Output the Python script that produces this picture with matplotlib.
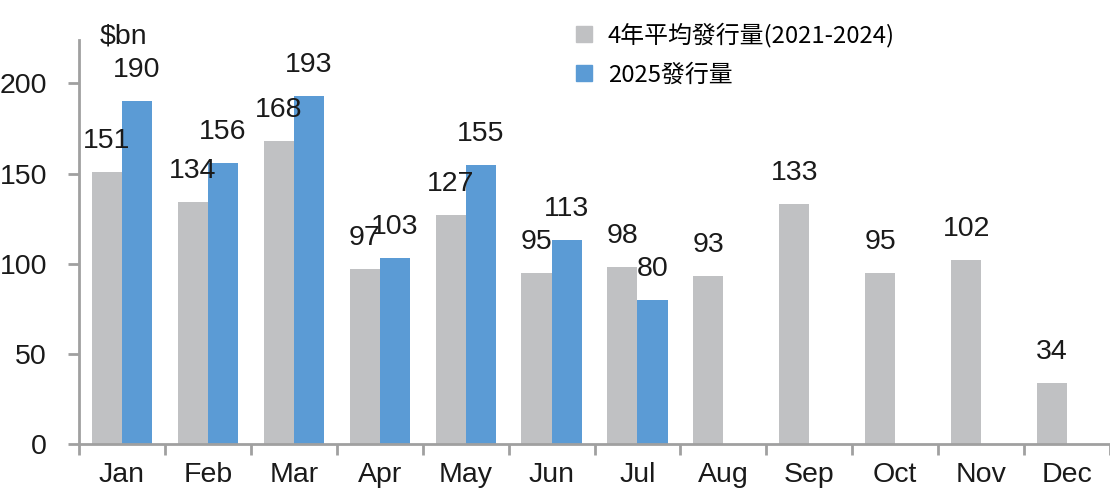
import numpy as np
import matplotlib
matplotlib.use('Agg')
import matplotlib.pyplot as plt
from matplotlib.lines import Line2D

months = ['Jan', 'Feb', 'Mar', 'Apr', 'May', 'Jun',
          'Jul', 'Aug', 'Sep', 'Oct', 'Nov', 'Dec']
avg_issuance = [151, 134, 168, 97, 127, 95, 98, 93, 133, 95, 102, 34]
issuance_2025 = [190, 156, 193, 103, 155, 113, 80]
label_avg = '4年平均發行量(2021-2024)'
label_2025 = '2025發行量'

gray = '#c0c1c3'
blue = '#5b9bd5'
axis_col = '#a0a0a0'
txt_col = '#1a1a1a'

plt.rcParams['font.family'] = ['Liberation Sans', 'DejaVu Sans']

fig = plt.figure(figsize=(11.1, 4.95), dpi=100)
ax = fig.add_axes([79 / 1110, 51 / 495, 1031 / 1110, 393 / 495])

x = np.arange(len(months))
w = 0.35
bars_avg = ax.bar(x - w / 2, avg_issuance, w, color=gray)
x25 = np.arange(len(issuance_2025))
bars_25 = ax.bar(x25 + w / 2, issuance_2025, w, color=blue)

# value labels sit ~24px above each bar
for bars, vals in [(bars_avg, avg_issuance), (bars_25, issuance_2025)]:
    for b, v in zip(bars, vals):
        ax.annotate(str(v), (b.get_x() + b.get_width() / 2, v),
                    xytext=(0, 24), textcoords='offset pixels',
                    ha='center', va='baseline', fontsize=20.5, color=txt_col)

ax.set_xlim(-0.5, 11.5)
ax.set_ylim(0, 218)
ax.set_yticks([0, 50, 100, 150, 200])
ax.set_xticks(x)
ax.set_xticklabels(months)
ax.set_xticks(np.arange(-0.5, 12, 1), minor=True)
ax.tick_params(axis='x', which='major', length=0, pad=13, labelsize=20.5,
               labelcolor=txt_col)
ax.tick_params(axis='x', which='minor', length=8, width=2, color=axis_col)
ax.tick_params(axis='y', length=8, width=2, color=axis_col, pad=15, labelsize=20.5,
               labelcolor=txt_col)

for side in ['top', 'right']:
    ax.spines[side].set_visible(False)
for side in ['left', 'bottom']:
    ax.spines[side].set_color(axis_col)
    ax.spines[side].set_linewidth(2)
ax.spines['left'].set_bounds(0, 224)

fig.text(100 / 1110, 1 - 43 / 495, '$bn', fontsize=20.5, va='baseline', color=txt_col)

handles = [Line2D([], [], marker='s', linestyle='none', markersize=12,
                  markerfacecolor=gray, markeredgecolor=gray),
           Line2D([], [], marker='s', linestyle='none', markersize=12,
                  markerfacecolor=blue, markeredgecolor=blue)]
fig.legend(handles, [label_avg, label_2025], loc='upper left',
           bbox_to_anchor=(560 / 1110, 1 - 11 / 495), frameon=False,
           prop={'family': ['Noto Sans CJK TC', 'DejaVu Sans'], 'size': 17.2},
           handletextpad=0.5, labelspacing=0.65, handlelength=1.0,
           borderpad=0)

fig.savefig('out.png', dpi=100)
